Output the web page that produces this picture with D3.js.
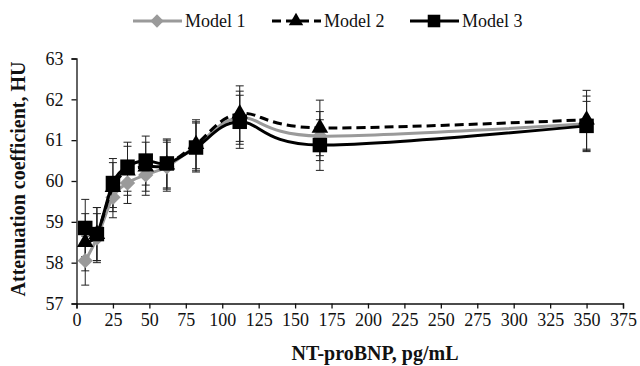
<!DOCTYPE html>
<html lang="en">
<head>
  <meta charset="UTF-8">
  <title>Attenuation coefficient vs NT-proBNP</title>
  <script src="https://d3js.org/d3.v7.min.js"></script>
  <style>
    body { margin: 0; background: #fff; }
    svg { display: block; }
    .axis text { font: 18px "Liberation Serif", "Times New Roman", serif; fill: #111; }
    .axis path, .axis line { stroke: #111; stroke-width: 1.3px; }
    .title { font: bold 20px "Liberation Serif", "Times New Roman", serif; fill: #111; }
    .legend text { font: 18px "Liberation Serif", "Times New Roman", serif; fill: #111; }
  </style>
</head>
<body>
  <svg width="640" height="366"></svg>

  <script>
    // NT-proBNP, pg/mL
    const xValues = [6, 14, 25, 35, 47.5, 62, 82, 112, 167, 350];
    const model1 = [58.05, 58.6, 59.6, 59.95, 60.15, 60.35, 60.85, 61.55, 61.1, 61.4];
    const model2 = [58.5, 58.7, 59.85, 60.25, 60.35, 60.4, 60.9, 61.65, 61.3, 61.5];
    const model3 = [58.85, 58.7, 59.95, 60.35, 60.5, 60.43, 60.82, 61.45, 60.88, 61.35];
    const err1 = [0.6, 0.6, 0.5, 0.5, 0.5, 0.6, 0.6, 0.65, 0.6, 0.68];
    const err2 = [0.7, 0.65, 0.6, 0.6, 0.6, 0.6, 0.6, 0.68, 0.68, 0.72];
    const err3 = [0.7, 0.65, 0.6, 0.6, 0.6, 0.6, 0.6, 0.65, 0.62, 0.6];
    const xTicks = d3.range(0, 376, 25);
    const yTicks = [57, 58, 59, 60, 61, 62, 63];

    const svg = d3.select("svg");
    const x = d3.scaleLinear().domain([0, 375]).range([76.5, 623]);
    const y = d3.scaleLinear().domain([57, 63]).range([303.5, 58.5]);

    const series = [
      { name: "Model 1", vals: model1, err: err1, color: "#9a9a9a", dash: null, shape: d3.symbolDiamond2, size: 150 },
      { name: "Model 2", vals: model2, err: err2, color: "#000", dash: "9,5", shape: d3.symbolTriangle, size: 120 },
      { name: "Model 3", vals: model3, err: err3, color: "#000", dash: null, shape: d3.symbolSquare, size: 210 }
    ];

    // axes
    svg.append("g")
      .attr("class", "axis")
      .attr("transform", `translate(0,${y(57)})`)
      .call(d3.axisBottom(x).tickValues(xTicks).tickFormat(d3.format("d"))
        .tickSize(5).tickSizeOuter(5).tickPadding(5));

    svg.append("g")
      .attr("class", "axis")
      .attr("transform", `translate(${x(0)},0)`)
      .call(d3.axisLeft(y).tickValues(yTicks).tickFormat(d3.format("d"))
        .tickSize(5).tickSizeOuter(5).tickPadding(8));

    svg.append("text")
      .attr("class", "title")
      .attr("text-anchor", "middle")
      .attr("x", 375).attr("y", 360)
      .text("NT-proBNP, pg/mL");

    svg.append("text")
      .attr("class", "title")
      .attr("text-anchor", "middle")
      .attr("transform", "translate(25,179) rotate(-90)")
      .text("Attenuation coefficient, HU");

    const line = d3.line().curve(d3.curveCatmullRom.alpha(0));

    // error bars
    series.forEach(s => {
      const g = svg.append("g");
      s.vals.forEach((v, i) => {
        const cx = x(xValues[i]);
        const lo = y(v - s.err[i]), hi = y(v + s.err[i]);
        g.append("line").attr("x1", cx).attr("x2", cx).attr("y1", lo).attr("y2", hi)
          .attr("stroke", "#222").attr("stroke-width", 1);
        [lo, hi].forEach(yy => {
          g.append("line").attr("x1", cx - 4).attr("x2", cx + 4).attr("y1", yy).attr("y2", yy)
            .attr("stroke", "#222").attr("stroke-width", 1);
        });
      });
    });

    // lines + markers
    series.forEach(s => {
      const pts = s.vals.map((v, i) => [x(xValues[i]), y(v)]);
      svg.append("path")
        .attr("d", line(pts))
        .attr("fill", "none")
        .attr("stroke", s.color)
        .attr("stroke-width", 3)
        .attr("stroke-dasharray", s.dash);
      svg.append("g").selectAll("path")
        .data(pts)
        .join("path")
        .attr("transform", d => `translate(${d[0]},${d[1]})`)
        .attr("d", d3.symbol().type(s.shape).size(s.size))
        .attr("fill", s.color);
    });

    // legend
    const legX = [133, 272, 410];
    const leg = svg.append("g").attr("class", "legend");
    series.forEach((s, i) => {
      const lx = legX[i], ly = 21;
      leg.append("line").attr("x1", lx).attr("x2", lx + 49).attr("y1", ly).attr("y2", ly)
        .attr("stroke", s.color).attr("stroke-width", 3).attr("stroke-dasharray", s.dash);
      leg.append("path")
        .attr("transform", `translate(${lx + 24},${ly})`)
        .attr("d", d3.symbol().type(s.shape).size(s.size * 0.75))
        .attr("fill", s.color);
      leg.append("text").attr("x", lx + 52).attr("y", ly + 6).text(s.name);
    });
  </script>
</body>
</html>
